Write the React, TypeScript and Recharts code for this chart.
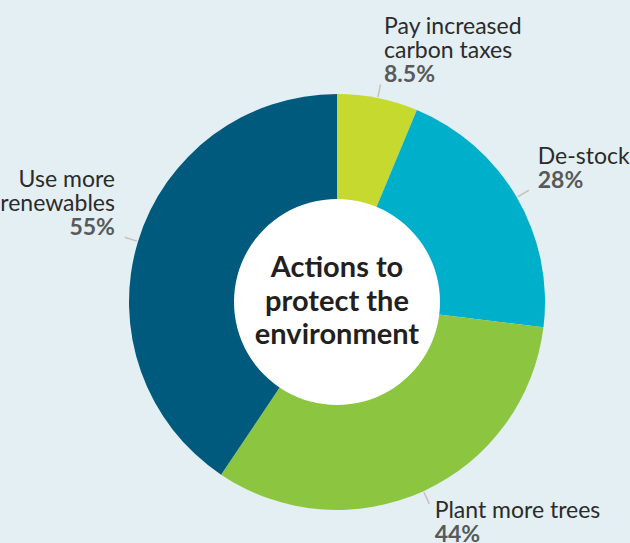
import React from 'react';
import { Cell, Pie, PieChart } from 'recharts';

const categories = ['Pay increased carbon taxes', 'De-stock', 'Plant more trees', 'Use more renewables'];
const labelLines = [['Pay increased', 'carbon taxes'], ['De-stock'], ['Plant more trees'], ['Use more', 'renewables']];
const values = [8.5, 28, 44, 55];
const colors = ['#c6d92f', '#00afca', '#8cc540', '#005a7d'];
const titleLines = ['Actions to', 'protect the', 'environment'];

const data = categories.map((name, i) => ({ name, value: values[i] }));
const RADIAN = Math.PI / 180;
const FONT = 'Lato, "Open Sans", sans-serif';

function renderLabel(props: any) {
  const { cx, cy, midAngle, outerRadius, index } = props;
  const cos = Math.cos(-midAngle * RADIAN);
  const sin = Math.sin(-midAngle * RADIAN);
  const x0 = cx + (outerRadius + 1) * cos;
  const y0 = cy + (outerRadius + 1) * sin;
  const x1 = cx + (outerRadius + 14) * cos;
  const y1 = cy + (outerRadius + 14) * sin;
  const right = cos >= 0;
  const lines = labelLines[index];
  const lh = 24;
  const tx = x1 + (right ? 1 : -1) * (2 + 8 * Math.abs(cos));
  const total = lines.length + 1;
  const firstBase = sin < 0 ? y1 - 2 - (total - 1) * lh : y1 + 14;
  return (
    <g>
      <line x1={x0} y1={y0} x2={x1} y2={y1} stroke="#c9c1b9" strokeWidth={1.5} />
      <text textAnchor={right ? 'start' : 'end'} fontFamily={FONT} fontSize={23}>
        {lines.map((l, i) => (
          <tspan key={i} x={tx} y={firstBase + i * lh} fill="#2b2b2b">
            {l}
          </tspan>
        ))}
        <tspan x={tx} y={firstBase + lines.length * lh} fill="#58595b" fontWeight={700}>
          {values[index]}%
        </tspan>
      </text>
    </g>
  );
}

function renderTitle(props: any) {
  const { cx, cy } = props;
  return (
    <text textAnchor="middle" fontFamily={FONT} fontSize={29} fontWeight={700} fill="#231f20">
      {titleLines.map((l, i) => (
        <tspan key={i} x={cx} y={cy - 25 + i * 33.5}>
          {l}
        </tspan>
      ))}
    </text>
  );
}

export default function App() {
  return (
    <div style={{ position: 'absolute', left: 0, top: 0, width: 630, height: 543, background: '#e3eff2' }}>
      <PieChart width={630} height={543} margin={{ top: 0, right: 0, bottom: 0, left: 0 }}>
        <Pie
          data={data}
          dataKey="value"
          nameKey="name"
          cx={337}
          cy={302}
          outerRadius={208}
          innerRadius={0}
          startAngle={90}
          endAngle={-270}
          stroke="none"
          label={renderLabel}
          labelLine={false}
          isAnimationActive={false}
        >
          {data.map((d, i) => (
            <Cell key={d.name} fill={colors[i]} />
          ))}
        </Pie>
        <Pie
          data={[{ name: 'center', value: 1 }]}
          dataKey="value"
          cx={337}
          cy={302}
          outerRadius={103}
          fill="#ffffff"
          stroke="none"
          label={renderTitle}
          labelLine={false}
          isAnimationActive={false}
        />
      </PieChart>
    </div>
  );
}
